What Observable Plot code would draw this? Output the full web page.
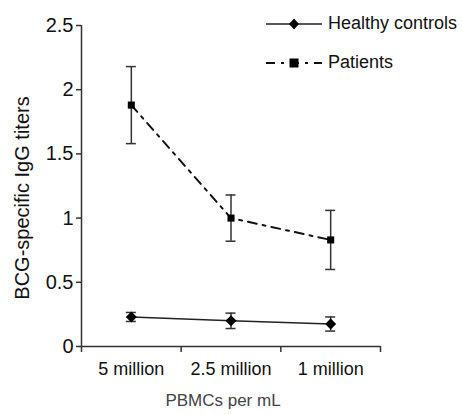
<!DOCTYPE html>
<html><head><meta charset="utf-8">
<script src="https://cdn.jsdelivr.net/npm/d3@7"></script>
<script src="https://cdn.jsdelivr.net/npm/@observablehq/plot@0.6"></script>
<style>
body{margin:0;background:#fff;}
#wrap{position:relative;width:463px;height:414px;font-family:"Liberation Sans",Arial,sans-serif;}
#legend{position:absolute;left:264px;top:4px;font-size:18px;color:#111;}
#legend div{display:flex;align-items:center;height:39px;}
#legend svg{margin-right:4px;}
</style></head>
<body><div id="wrap"><div id="legend"></div></div>
<script>
const categories = ["5 million", "2.5 million", "1 million"];
const healthy = [0.23, 0.20, 0.175];
const healthyErr = [0.035, 0.06, 0.055];
const patients = [1.88, 1.0, 0.83];
const patientsErr = [0.30, 0.18, 0.23];
const yTicks = [0, 0.5, 1, 1.5, 2, 2.5];
const seriesNames = ["Healthy controls", "Patients"];

const rows = [];
categories.forEach((c, i) => {
  rows.push({group: seriesNames[0], cat: c, i: i + 0.5, v: healthy[i], e: healthyErr[i]});
  rows.push({group: seriesNames[1], cat: c, i: i + 0.5, v: patients[i], e: patientsErr[i]});
});
const H = rows.filter(d => d.group === seriesNames[0]);
const P = rows.filter(d => d.group === seriesNames[1]);
const caps = rows.flatMap(d => [{i: d.i, y: d.v + d.e}, {i: d.i, y: d.v - d.e}]);

const chart = Plot.plot({
  width: 463, height: 414,
  marginLeft: 81, marginRight: 83, marginTop: 25, marginBottom: 68,
  style: {fontFamily: "Liberation Sans, Arial, sans-serif", fontSize: "18px", color: "#111", background: "transparent"},
  x: {type: "linear", domain: [0, categories.length], axis: null},
  y: {domain: [0, 2.5], axis: null},
  marks: [
    Plot.ruleX(rows, {x: "i", y1: d => d.v - d.e, y2: d => d.v + d.e, stroke: "#333", strokeWidth: 1.5}),
    Plot.ruleY(caps, {x1: "i", x2: "i", y: "y", insetLeft: -5, insetRight: -5, stroke: "#333", strokeWidth: 1.5}),
    Plot.line(H, {x: "i", y: "v", stroke: "#222", strokeWidth: 1.5}),
    Plot.line(P, {x: "i", y: "v", stroke: "#111", strokeWidth: 2, strokeDasharray: "9,6,3,6"}),
    Plot.dot(H, {x: "i", y: "v", symbol: "diamond2", r: 5, fill: "#000", stroke: "none"}),
    Plot.dot(P, {x: "i", y: "v", symbol: "square2", r: 4.5, fill: "#000", stroke: "none"}),
    Plot.axisY({ticks: yTicks, tickSize: 5, tickFormat: d => String(d), stroke: "#333", strokeWidth: 1.5, tickPadding: 3, fontSize: 20, label: null}),
    Plot.ruleX([0], {stroke: "#333", strokeWidth: 1.5}),
    Plot.ruleY([0], {stroke: "#333", strokeWidth: 1.5}),
    Plot.axisX({ticks: d3.range(categories.length + 1), tickSize: 6, tickFormat: () => "", stroke: "#333", strokeWidth: 1.5, label: null}),
    Plot.axisX({ticks: categories.map((c, i) => i + 0.5), tickSize: 0, tickPadding: 16, tickFormat: d => categories[Math.floor(d)], fontSize: 18, label: null}),
    Plot.text(["BCG-specific IgG titers"], {frameAnchor: "left", textAnchor: "middle", rotate: -90, dx: -59, dy: 12, fontSize: 20, fill: "#111"}),
    Plot.text(["PBMCs per mL"], {frameAnchor: "bottom", dy: 59, dx: -8, fontSize: 17, fill: "#444"})
  ]
});
document.getElementById("wrap").prepend(chart);

const legend = document.getElementById("legend");
legend.innerHTML =
  `<div><svg width="60" height="12"><line x1="2" x2="58" y1="6" y2="6" stroke="#222" stroke-width="1.5"/><path d="M30,0.5L35,6L30,11.5L25,6Z" fill="#000"/></svg>${seriesNames[0]}</div>` +
  `<div><svg width="60" height="12"><line x1="2" x2="58" y1="6" y2="6" stroke="#111" stroke-width="2" stroke-dasharray="9,6,3,6"/><rect x="25.5" y="1.5" width="9" height="9" fill="#000"/></svg>${seriesNames[1]}</div>`;
</script>
</body></html>
